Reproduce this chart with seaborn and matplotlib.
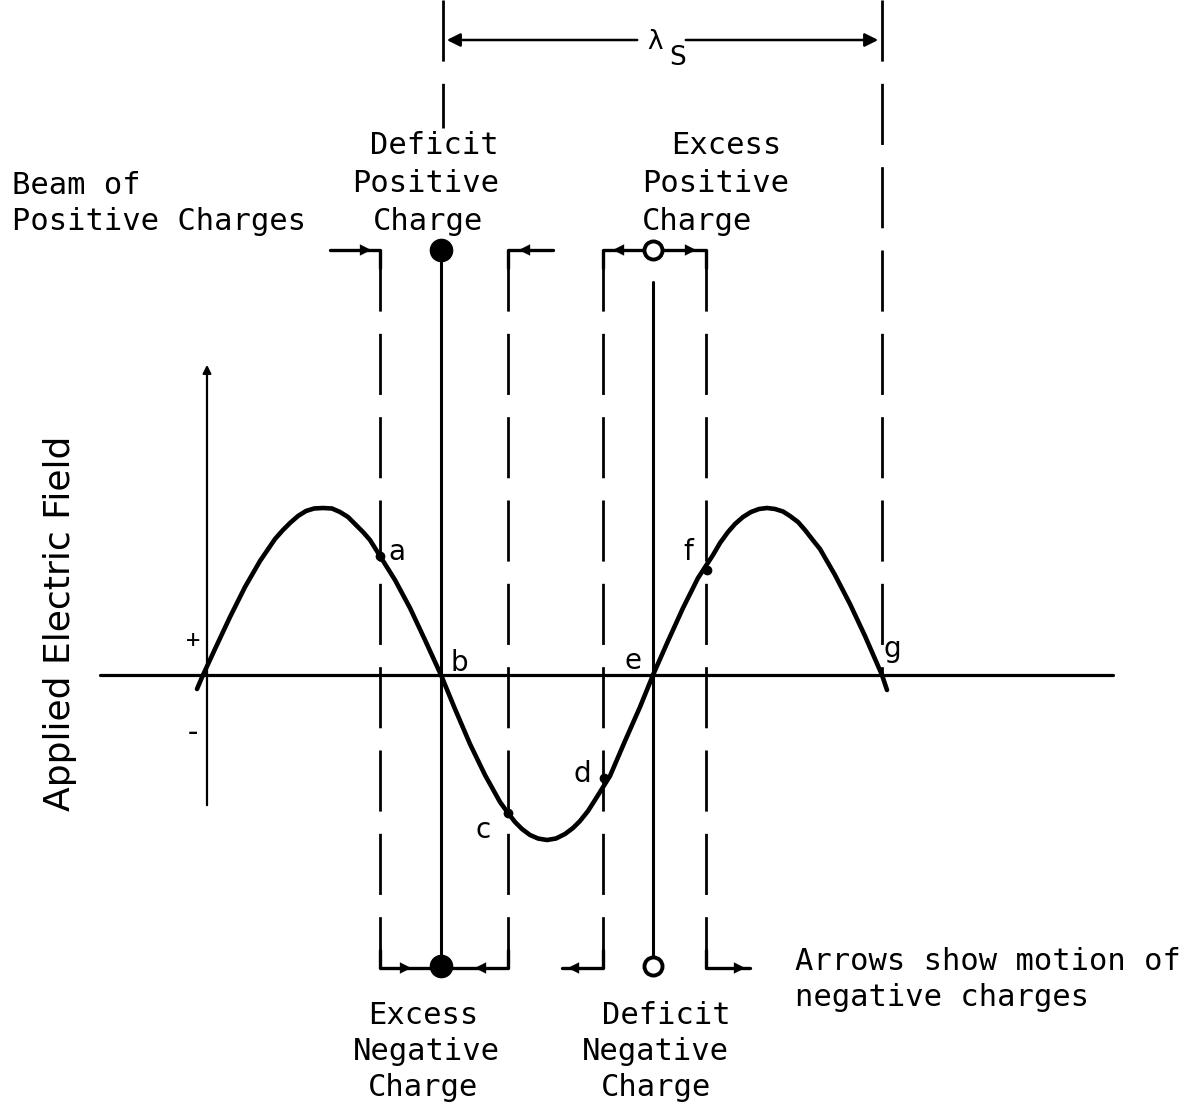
import numpy as np
import pandas as pd
import matplotlib
matplotlib.use("Agg")
import matplotlib.pyplot as plt
import seaborn as sns

# wave (pixel coordinates, y grows downwards)
wave_x = [197, 203, 215, 230, 245, 260, 275, 283, 290, 298, 306, 314, 323, 332, 340, 348, 355, 363,
          370, 380, 395, 410, 425, 441,
          455, 470, 485, 500, 508, 515, 522, 530, 538, 547, 556, 565, 573, 580, 588, 595, 610, 625,
          640, 653,
          668, 683, 698, 713, 720, 728, 735, 743, 751, 759, 767, 775, 783, 790, 798, 805, 812, 820,
          835, 850, 865, 882, 887]
wave_y = [689, 675, 649, 617, 587, 561, 539, 530, 523, 516, 511, 508.5, 508, 508.5, 512, 517, 524,
          532, 540, 556, 580, 608, 640, 675,
          709, 744, 775, 802, 813, 822, 829, 835, 838.5, 840, 838.5, 834, 828, 821, 811, 800, 776,
          741, 707, 675,
          641, 608, 578, 555, 543, 532, 524, 517, 512, 509, 508, 509, 511.5, 516, 522, 530, 539,
          549, 575, 604, 636, 675, 690]

# lettered points on the wave
point_names = ["a", "b", "c", "d", "e", "f", "g"]
point_x = [380, 441, 508, 604, 653, 707, 882]
point_y = [556, 675, 813, 778, 675, 570, 675]
label_dx = [17, 18, -25, -22, -20, -19, 10]
label_dy = [-4, -12, 17, -4, -14, -18, -26]

# vertical guide lines
dashed_x = [380, 508, 603, 706]
solid_x = [441, 653]

sns.set_theme(style="white")
fig = plt.figure(figsize=(11.97, 11.09), dpi=100)
ax = fig.add_axes([0, 0, 1, 1])
ax.set_xlim(0, 1197)
ax.set_ylim(1109, 0)
ax.axis("off")

k = "black"
dash = (0, (22, 8))
txt = dict(color=k, fontsize=22, family="DejaVu Sans Mono")

# axes of the wave
ax.plot([100, 1113], [675, 675], color=k, lw=2.3)
ax.annotate("", xy=(207, 362), xytext=(207, 808),
            arrowprops=dict(arrowstyle="-|>", color=k, lw=1.6, mutation_scale=12))
ax.text(193, 640, "+", ha="center", va="center", color=k, fontsize=17, family="DejaVu Sans Mono")
ax.text(193, 733, "-", ha="center", va="center", **txt)
ax.text(60, 623, "Applied Electric Field", rotation=90, ha="center", va="center",
        color=k, fontsize=26, family="DejaVu Sans")

# wave
wave = pd.DataFrame({"x": wave_x, "y": wave_y})
sns.lineplot(data=wave, x="x", y="y", sort=False, estimator=None, color=k, lw=3.3, ax=ax)
ax.set_xlabel("")
ax.set_ylabel("")

for n, px, py, dx, dy in zip(point_names, point_x, point_y, label_dx, label_dy):
    if n not in ("b", "e", "g"):
        ax.plot(px, py, "o", color=k, ms=6)
    ax.text(px + dx, py + dy, n, ha="center", va="center", color=k, fontsize=20,
            family="DejaVu Sans")

# guide lines
for x in dashed_x:
    ax.plot([x, x], [250, 968], color=k, lw=2, linestyle=dash)
ax.plot([441, 441], [250, 966], color=k, lw=2.2)
ax.plot([653, 653], [282, 955], color=k, lw=2.2)

# lambda_s marker
ax.plot([443, 443], [0, 128], color=k, lw=2, linestyle=dash)
ax.plot([882, 882], [0, 675], color=k, lw=2, linestyle=dash)
ax.annotate("", xy=(444, 40), xytext=(640, 40),
            arrowprops=dict(arrowstyle="-|>", color=k, lw=1.8, mutation_scale=20))
ax.annotate("", xy=(881, 40), xytext=(683, 40),
            arrowprops=dict(arrowstyle="-|>", color=k, lw=1.8, mutation_scale=20))
ax.text(655, 42, "λ", ha="center", va="center", color=k, fontsize=19, family="DejaVu Sans")
ax.text(678, 58, "S", ha="center", va="center", color=k, fontsize=19, family="DejaVu Sans")


def bracket(xs, ys, tail, head):
    ax.plot(xs, ys, color=k, lw=2.4)
    ax.annotate("", xy=head, xytext=tail,
                arrowprops=dict(arrowstyle="-|>", color=k, lw=0.1, mutation_scale=20))


# top brackets
bracket([330, 380, 380], [250, 250, 268], (345, 250), (374, 250))
bracket([553, 508, 508], [250, 250, 268], (545, 250), (516, 250))
bracket([643, 603, 603], [250, 250, 268], (638, 250), (610, 250))
bracket([663, 706, 706], [250, 250, 268], (668, 250), (699, 250))
ax.plot(441, 250, "o", color=k, ms=16)
ax.plot(653, 250, "o", mfc="white", mec=k, mew=2.8, ms=13)

# bottom brackets
bracket([380, 380, 430], [950, 968, 968], (384, 968), (414, 968))
bracket([508, 508, 452], [950, 968, 968], (500, 968), (472, 968))
bracket([603, 603, 562], [950, 968, 968], (596, 968), (565, 968))
bracket([706, 706, 750], [950, 968, 968], (712, 968), (748, 968))
ax.plot(441, 966, "o", color=k, ms=16)
ax.plot(653, 966, "o", mfc="white", mec=k, mew=2.8, ms=13)

# captions
ax.text(12, 185, "Beam of", ha="left", va="center", **txt)
ax.text(12, 221, "Positive Charges", ha="left", va="center", **txt)
ax.text(434, 146, "Deficit", ha="center", va="center", **txt)
ax.text(426, 184, "Positive", ha="center", va="center", **txt)
ax.text(428, 221, "Charge", ha="center", va="center", **txt)
ax.text(726, 146, "Excess", ha="center", va="center", **txt)
ax.text(716, 184, "Positive", ha="center", va="center", **txt)
ax.text(697, 221, "Charge", ha="center", va="center", **txt)
ax.text(423, 1015, "Excess", ha="center", va="center", **txt)
ax.text(426, 1052, "Negative", ha="center", va="center", **txt)
ax.text(423, 1088, "Charge", ha="center", va="center", **txt)
ax.text(666, 1015, "Deficit", ha="center", va="center", **txt)
ax.text(655, 1052, "Negative", ha="center", va="center", **txt)
ax.text(656, 1088, "Charge", ha="center", va="center", **txt)
ax.text(795, 962, "Arrows show motion of", ha="left", va="center", **txt)
ax.text(795, 998, "negative charges", ha="left", va="center", **txt)

fig.savefig("out.png", dpi=100)
